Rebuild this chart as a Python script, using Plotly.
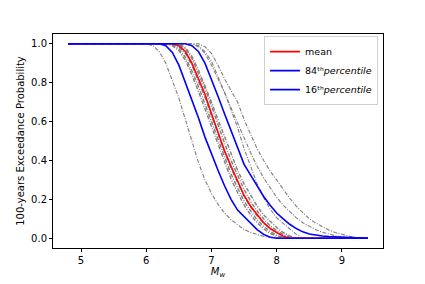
import plotly.graph_objects as go

# Magnitude grid
mw = [4.8, 6.0, 6.1, 6.2, 6.3, 6.4, 6.5, 6.6, 6.7, 6.8, 6.9, 7.0, 7.1, 7.2, 7.3, 7.4,
      7.5, 7.6, 7.7, 7.8, 7.9, 8.0, 8.1, 8.2, 8.3, 8.4, 8.5, 8.6, 8.7, 8.8, 8.9, 9.0,
      9.1, 9.2, 9.3, 9.4]

mean_p = [1, 1, 1, 1, 1, 1.0, 0.99, 0.96, 0.90, 0.82, 0.74, 0.64, 0.54, 0.45, 0.37, 0.29,
          0.22, 0.165, 0.12, 0.08, 0.05, 0.028, 0.01, 0.0, 0, 0, 0, 0, 0, 0, 0, 0,
          0, 0, 0, 0]

p84 = [1, 1, 1, 1, 1, 1, 1, 1.0, 0.99, 0.96, 0.90, 0.82, 0.73, 0.64, 0.55, 0.46,
       0.38, 0.325, 0.27, 0.215, 0.17, 0.13, 0.10, 0.072, 0.05, 0.033, 0.022, 0.016, 0.012, 0.009, 0.007, 0.005,
       0.003, 0.002, 0.001, 0.0]

p16 = [1, 1, 1, 1.0, 0.99, 0.955, 0.89, 0.80, 0.72, 0.62, 0.52, 0.43, 0.35, 0.27, 0.20, 0.145,
       0.11, 0.075, 0.045, 0.02, 0.005, 0.0, 0, 0, 0, 0, 0, 0, 0, 0, 0, 0,
       0, 0, 0, 0]

# Individual branches (grey dash-dot)
br_left = [1, 1.0, 0.99, 0.96, 0.90, 0.81, 0.72, 0.61, 0.50, 0.39, 0.30, 0.23, 0.175, 0.13, 0.095, 0.068,
           0.045, 0.03, 0.018, 0.01, 0.006, 0.003, 0.001, 0.0, 0, 0, 0, 0, 0, 0, 0, 0,
           0, 0, 0, 0]
br_c = [1, 1, 1, 1, 1, 1, 1, 1, 1.0, 0.99, 0.96, 0.91, 0.83, 0.75, 0.66, 0.57,
        0.46, 0.37, 0.28, 0.21, 0.15, 0.105, 0.075, 0.045, 0.02, 0.0, 0, 0, 0, 0, 0, 0,
        0, 0, 0, 0]
br_a = [1, 1, 1, 1, 1, 1, 1, 1, 1.0, 0.985, 0.95, 0.89, 0.82, 0.75, 0.67, 0.59,
        0.51, 0.44, 0.37, 0.31, 0.26, 0.21, 0.17, 0.135, 0.105, 0.08, 0.06, 0.044, 0.031, 0.021, 0.013, 0.007,
        0.003, 0.0, 0, 0]
br_b = [1, 1, 1, 1, 1, 1, 1, 1, 1, 1.0, 0.985, 0.95, 0.89, 0.82, 0.76, 0.70,
        0.61, 0.53, 0.46, 0.40, 0.345, 0.30, 0.25, 0.205, 0.165, 0.13, 0.10, 0.078, 0.058, 0.042, 0.03, 0.02,
        0.011, 0.005, 0.0, 0]
br_1 = [1, 1, 1, 1, 1, 0.995, 0.975, 0.93, 0.86, 0.78, 0.69, 0.59, 0.50, 0.41, 0.33, 0.26,
        0.19, 0.14, 0.095, 0.06, 0.035, 0.015, 0.004, 0.0, 0, 0, 0, 0, 0, 0, 0, 0,
        0, 0, 0, 0]
br_2 = [1, 1, 1, 1, 1, 1.0, 0.995, 0.975, 0.925, 0.85, 0.77, 0.68, 0.58, 0.49, 0.40, 0.32,
        0.25, 0.19, 0.14, 0.10, 0.065, 0.04, 0.02, 0.006, 0.0, 0, 0, 0, 0, 0, 0, 0,
        0, 0, 0, 0]
br_3 = [1, 1, 1, 1, 1, 1, 1.0, 0.98, 0.935, 0.865, 0.785, 0.70, 0.61, 0.52, 0.43, 0.35,
        0.28, 0.22, 0.165, 0.12, 0.085, 0.055, 0.03, 0.012, 0.0, 0, 0, 0, 0, 0, 0, 0,
        0, 0, 0, 0]
br_4 = [1, 1, 1, 1, 1.0, 0.99, 0.965, 0.915, 0.84, 0.755, 0.665, 0.57, 0.475, 0.385, 0.305, 0.235,
        0.17, 0.12, 0.08, 0.048, 0.025, 0.01, 0.0, 0, 0, 0, 0, 0, 0, 0, 0, 0,
        0, 0, 0, 0]
br_5 = [1, 1, 1, 1, 1, 1.0, 0.985, 0.95, 0.89, 0.81, 0.725, 0.63, 0.535, 0.445, 0.36, 0.285,
        0.215, 0.16, 0.115, 0.078, 0.05, 0.028, 0.012, 0.0, 0, 0, 0, 0, 0, 0, 0, 0,
        0, 0, 0, 0]

outer_branches = [br_left, br_c, br_a, br_b]
inner_branches = [br_1, br_2, br_3, br_4, br_5]

x_ticks = [5, 6, 7, 8, 9]
y_ticks = [0.0, 0.2, 0.4, 0.6, 0.8, 1.0]

FONT = "DejaVu Sans"
fig = go.Figure()

for br in outer_branches:
    fig.add_trace(go.Scatter(x=mw, y=br, mode="lines", showlegend=False,
                             line=dict(color="#7f7f7f", width=1.1, dash="4px,1.5px,1px,1.5px")))
for br in inner_branches:
    fig.add_trace(go.Scatter(x=mw, y=br, mode="lines", showlegend=False,
                             line=dict(color="#7f7f7f", width=1.4, dash="4px,1.5px,1px,1.5px")))

fig.add_trace(go.Scatter(x=mw, y=mean_p, mode="lines", name="mean",
                         line=dict(color="#ff0000", width=1.6)))
fig.add_trace(go.Scatter(x=mw, y=p84, mode="lines",
                         name="84ᵗʰ<i>percentile</i>",
                         line=dict(color="#0000ff", width=1.6)))
fig.add_trace(go.Scatter(x=mw, y=p16, mode="lines",
                         name="16ᵗʰ<i>percentile</i>",
                         line=dict(color="#0000ff", width=1.6)))

axis_common = dict(showline=True, linecolor="black", linewidth=1, mirror=True,
                   ticks="outside", ticklen=3, tickwidth=1, tickcolor="black",
                   showgrid=False, zeroline=False, automargin=False,
                   tickfont=dict(family=FONT, size=10, color="black"))

# page body adds an 8px offset, so the figure is drawn 8px smaller
fig.update_layout(
    width=417, height=276,
    margin=dict(l=45, r=42, t=26, b=36),
    paper_bgcolor="white", plot_bgcolor="white",
    font=dict(family=FONT, size=10, color="black"),
    xaxis=dict(range=[4.57, 9.63], tickvals=x_ticks,
               title=dict(text="<i>M<sub>w</sub></i>", standoff=2,
                          font=dict(family=FONT, size=10)),
               **axis_common),
    yaxis=dict(range=[-0.05, 1.05], tickvals=y_ticks, tickformat=".1f",
               title=dict(text="100-years Exceedance Probability", standoff=4,
                          font=dict(family=FONT, size=10)),
               **axis_common),
    legend=dict(x=0.985, y=0.99, xanchor="right", yanchor="top",
                bgcolor="rgba(255,255,255,0.8)", bordercolor="#d0d0d0", borderwidth=1,
                font=dict(family=FONT, size=9.5), tracegroupgap=0, itemwidth=30),
)

fig.write_html("out.html")
